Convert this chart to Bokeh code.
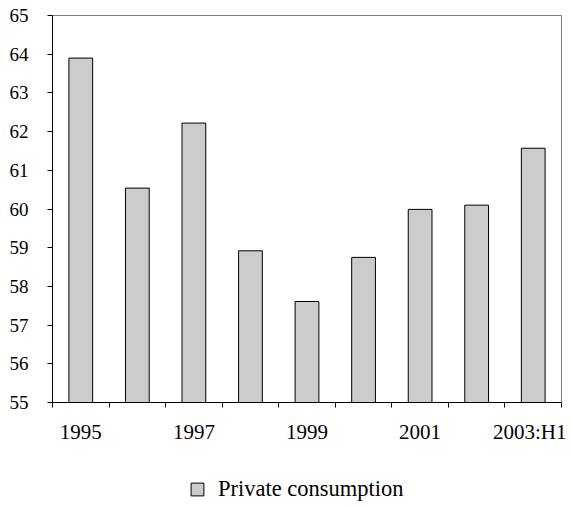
from bokeh.plotting import figure
from bokeh.models import FixedTicker, Range1d, Legend, LegendItem, ColumnDataSource
from bokeh.layouts import column
from bokeh.embed import file_html
from bokeh.resources import INLINE

categories = ["1995", "1996", "1997", "1998", "1999", "2000", "2001", "2002", "2003:H1"]
private_consumption = [63.9, 60.54, 62.22, 58.92, 57.61, 58.75, 59.99, 60.10, 61.57]
y_ticks = [55, 56, 57, 58, 59, 60, 61, 62, 63, 64, 65]
series_name = "Private consumption"

FONT = "Liberation Serif"
n = len(categories)
xs = list(range(n))

BAR_STYLE = dict(width=0.42, fill_color="#cccccc", line_color="#000000", line_width=1)

p = figure(frame_width=509, frame_height=387, output_backend="svg", toolbar_location=None,
           x_range=Range1d(-0.5, n - 0.5), y_range=Range1d(y_ticks[0], y_ticks[-1]),
           min_border_left=52, min_border_right=5, min_border_top=15, min_border_bottom=60)

src = ColumnDataSource(dict(x=xs, top=private_consumption, label=categories))
r = p.vbar(x="x", top="top", bottom=y_ticks[0], source=src, **BAR_STYLE)

p.xgrid.visible = False
p.ygrid.visible = False
p.outline_line_color = "#808080"
p.outline_line_width = 1
p.background_fill_color = "white"
p.border_fill_color = "white"

# x axis: labels at every other category, ticks at category boundaries
xa = p.xaxis[0]
xa.ticker = FixedTicker(ticks=xs[::2], minor_ticks=[i - 0.5 for i in range(n + 1)])
xa.major_label_overrides = {i: categories[i] for i in xs[::2]}
xa.major_tick_line_color = None
xa.major_tick_out = 0
xa.major_tick_in = 0
xa.minor_tick_out = 5
xa.minor_tick_in = 0
xa.minor_tick_line_color = "#000000"
xa.axis_line_color = "#000000"
xa.major_label_text_font = FONT
xa.major_label_text_font_size = "21px"
xa.major_label_text_color = "#000000"
xa.major_label_standoff = 12

ya = p.yaxis[0]
ya.ticker = FixedTicker(ticks=y_ticks, minor_ticks=[])
ya.major_tick_out = 5
ya.major_tick_in = 0
ya.major_tick_line_color = "#000000"
ya.axis_line_color = "#000000"
ya.major_label_text_font = FONT
ya.major_label_text_font_size = "19px"
ya.major_label_text_color = "#000000"
ya.major_label_standoff = 19

# legend strip below the chart (proxy renderer of the same series, kept far out of view)
leg = figure(frame_width=566, frame_height=45, output_backend="svg", toolbar_location=None,
             x_range=Range1d(1000, 1001), y_range=Range1d(1000, 1001),
             min_border_left=0, min_border_right=0, min_border_top=0, min_border_bottom=0,
             x_axis_location=None, y_axis_location=None)
leg.xgrid.visible = False
leg.ygrid.visible = False
leg.outline_line_color = None
leg.background_fill_color = "white"
leg.border_fill_color = "white"
proxy = leg.vbar(x="x", top="top", bottom=y_ticks[0], source=src, **BAR_STYLE)

legend = Legend(items=[LegendItem(label=series_name, renderers=[proxy])],
                location=(189, 5), orientation="horizontal",
                border_line_color=None, background_fill_alpha=0,
                padding=0, margin=0, spacing=0,
                glyph_width=16, glyph_height=16, label_height=16,
                label_standoff=13, label_text_font=FONT,
                label_text_font_size="22.5px", label_text_color="#000000")
leg.add_layout(legend, "center")

layout = column(p, leg, spacing=0)
open("out.html", "w").write(file_html(layout, INLINE))
